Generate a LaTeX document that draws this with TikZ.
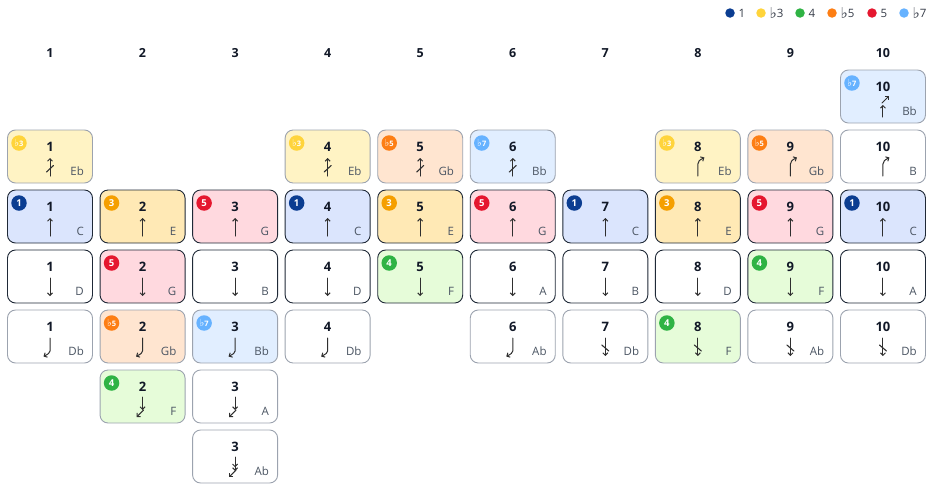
\documentclass[tikz,border=0pt]{standalone}
\usepackage{fontspec}
\setmainfont{Open Sans}
\newfontfamily\symfont{DejaVu Sans}
\usetikzlibrary{arrows.meta,positioning}
\newcommand\flatsym{\raisebox{-0.05em}{\scalebox{1.35}[1.3]{\symfont\char"266D}}}
\definecolor{ink}{HTML}{111827}
\definecolor{notegray}{HTML}{4B5563}
\definecolor{edgedark}{HTML}{1F2937}
\definecolor{edgelight}{HTML}{9CA3AF}
\definecolor{glyphgray}{HTML}{2F2F2F}
% degree colours: k = badge, f = cell fill
\definecolor{k1}{HTML}{0B3D91}\definecolor{f1}{HTML}{DBE5FD}
\definecolor{kb3}{HTML}{FFD43B}\definecolor{fb3}{HTML}{FFF3C4}
\definecolor{k3}{HTML}{F59F00}\definecolor{f3}{HTML}{FFE9B5}
\definecolor{k4}{HTML}{2FB344}\definecolor{f4}{HTML}{E6FCD9}
\definecolor{kb5}{HTML}{FD7E14}\definecolor{fb5}{HTML}{FFE5D0}
\definecolor{k5}{HTML}{E5172F}\definecolor{f5}{HTML}{FFD9DF}
\definecolor{kb7}{HTML}{66B2FF}\definecolor{fb7}{HTML}{E1EEFF}
\tikzset{
	cell/.style={rounded corners=8pt, minimum width=85pt, minimum height=53pt, line width=0.9pt, fill=white},
	hole/.style={font=\bfseries\fontsize{13}{13}\selectfont, text=ink, inner sep=0pt},
	head/.style={font=\bfseries\fontsize{12.5}{13}\selectfont, text=ink, inner sep=0pt},
	note/.style={font=\fontsize{11.5}{12}\selectfont, text=notegray, inner sep=0pt},
	badge/.style={circle, minimum size=15.5pt, inner sep=0pt, text=white, font=\bfseries\fontsize{9.5}{10}\selectfont},
	flatbadge/.style={font=\bfseries\fontsize{7.5}{8}\selectfont},
	dot/.style={circle, minimum size=9.5pt, inner sep=0pt},
	keytext/.style={font=\fontsize{11.5}{12}\selectfont, text=ink!85, inner sep=0pt},
	dg-none/.style={fill=white},
	dg-1/.style={fill=f1}, dg-b3/.style={fill=fb3}, dg-3/.style={fill=f3}, dg-4/.style={fill=f4},
	dg-b5/.style={fill=fb5}, dg-5/.style={fill=f5}, dg-b7/.style={fill=fb7},
	bg-1/.style={fill=k1, node contents=1}, bg-b3/.style={fill=kb3, flatbadge, node contents=\flatsym3},
	bg-3/.style={fill=k3, node contents=3}, bg-4/.style={fill=k4, node contents=4},
	bg-b5/.style={fill=kb5, flatbadge, node contents=\flatsym5}, bg-5/.style={fill=k5, node contents=5},
	bg-b7/.style={fill=kb7, flatbadge, node contents=\flatsym7},
	tip/.style={-{Straight Barb[length=2.5pt,width=5pt]}, line width=1pt, draw=glyphgray},
	tiptwo/.style={-{Straight Barb[length=2.5pt,width=5pt] Straight Barb[length=2.5pt,width=5pt]}, line width=1pt, draw=glyphgray},
	glyph-blow/.pic={\draw[tip] (0,9) -- (0,-9);},
	glyph-draw/.pic={\draw[tip] (0,-9) -- (0,9);},
	glyph-ob/.pic={\draw[tip] (0,9) -- (0,-9); \draw[line width=1.1pt, glyphgray] (-3.5,5) -- (3.5,-1.5);},
	glyph-od/.pic={\draw[tip] (0,-9) -- (0,9); \draw[line width=1.1pt, glyphgray] (-3.5,-2) -- (3.5,4);},
	glyph-bb/.pic={\draw[tip] (0,9) -- (0,-3) .. controls (0,-6) and (2,-7) .. (6.5,-9.5);},
	glyph-bbb/.pic={\draw[tip] (0,10) -- (0,-2); \draw[tip] (-1,-4) -- (6,-11);},
	glyph-db1/.pic={\draw[tip] (0,-9) -- (0,4) .. controls (0,6) and (-2,7) .. (-6.5,9.5);},
	glyph-db2/.pic={\draw[tip] (0,-10) -- (0,3); \draw[tip] (1,3) -- (-6,10);},
	glyph-db3/.pic={\draw[tiptwo] (0,-10) -- (0,4); \draw[tip] (1,3) -- (-6,10);},
}
\begin{document}
\begin{tikzpicture}[x=1pt, y=-1pt, line join=round, line cap=round]
	\useasboundingbox (0,0) rectangle (934,488);
	\edef\nodeg{none}
	% legend
	\foreach \x/\d/\t in {730/1/1, 761/b3/\flatsym3, 800/4/4, 832/b5/\flatsym5, 872/5/5, 904/b7/\flatsym7}{
		\node[dot, fill=k\d] (key-\d) at (\x,13) {};
		\node[keytext, right=3.5pt of key-\d] (keytext-\d) {\t};
	}
	% hole numbers
	\foreach \c in {1,...,10}{
		\pgfmathsetmacro\cx{50+(\c-1)*92.55}
		\node[head] (head-\c) at (\cx,53) {\c};
	}
	% cells: hole / row / degree / glyph / note
	\foreach \c/\r/\deg/\g/\n in {
		10/0/b7/bbb/Bb,
		1/1/b3/ob/Eb, 4/1/b3/ob/Eb, 5/1/b5/ob/Gb, 6/1/b7/ob/Bb, 8/1/b3/bb/Eb, 9/1/b5/bb/Gb, 10/1/none/bb/B,
		1/2/1/blow/C, 2/2/3/blow/E, 3/2/5/blow/G, 4/2/1/blow/C, 5/2/3/blow/E,
		6/2/5/blow/G, 7/2/1/blow/C, 8/2/3/blow/E, 9/2/5/blow/G, 10/2/1/blow/C,
		1/3/none/draw/D, 2/3/5/draw/G, 3/3/none/draw/B, 4/3/none/draw/D, 5/3/4/draw/F,
		6/3/none/draw/A, 7/3/none/draw/B, 8/3/none/draw/D, 9/3/4/draw/F, 10/3/none/draw/A,
		1/4/none/db1/Db, 2/4/b5/db1/Gb, 3/4/b7/db1/Bb, 4/4/none/db1/Db, 6/4/none/db1/Ab,
		7/4/none/od/Db, 8/4/4/od/F, 9/4/none/od/Ab, 10/4/none/od/Db,
		2/5/4/db2/F, 3/5/none/db2/A,
		3/6/none/db3/Ab}{
		\pgfmathsetmacro\cx{50+(\c-1)*92.55}
		\pgfmathsetmacro\cy{96.5+60*\r}
		\ifnum\r=2 \def\edgecol{edgedark}\else\ifnum\r=3 \def\edgecol{edgedark}\else\def\edgecol{edgelight}\fi\fi
		\node[cell, dg-\deg, draw=\edgecol] (cell-\c-\r) at (\cx,\cy) {};
		\node[hole] (num-\c-\r) at (\cx,\cy-10) {\c};
		\pic at (\cx,\cy+10.5) {glyph-\g};
		\node[note, anchor=base east] (note-\c-\r) at (\cx+34,\cy+18.5) {\n};
		\edef\tmp{\deg}
		\ifx\tmp\nodeg\else
			\node (badge-\c-\r) at (\cx-31,\cy-13.5) [badge, bg-\deg];
		\fi
	}
\end{tikzpicture}
\end{document}
